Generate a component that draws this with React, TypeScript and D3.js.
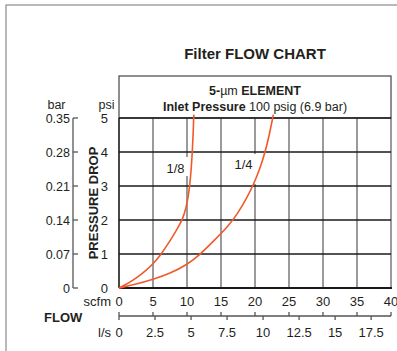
import React from "react";
import * as d3 from "d3";

const scfmTicks = [0, 5, 10, 15, 20, 25, 30, 35, 40];
const lpsTicks = [0, 2.5, 5, 7.5, 10, 12.5, 15, 17.5];
const psiTicks = [0, 1, 2, 3, 4, 5];
const barTicks = ["0", "0.07", "0.14", "0.21", "0.28", "0.35"];

// [scfm, psi]
const curve18: [number, number][] = [
  [0, 0], [1, 0.1], [2, 0.22], [3, 0.36], [4, 0.52], [5, 0.7], [6.2, 1], [7, 1.23],
  [8, 1.55], [8.8, 1.82], [9.4, 2.05], [9.85, 2.35], [10.2, 2.7], [10.42, 3.05],
  [10.62, 3.5], [10.78, 4], [10.9, 4.5], [10.98, 5], [11.02, 5.1],
];
const curve14: [number, number][] = [
  [0, 0], [2.5, 0.11], [5, 0.25], [7.5, 0.43], [10, 0.68], [12, 1.0], [14, 1.4],
  [16, 1.8], [17.5, 2.2], [18.8, 2.65], [19.8, 3.05], [20.7, 3.5], [21.5, 4],
  [22.1, 4.5], [22.6, 5], [22.7, 5.1],
];

const FONT = "'Liberation Sans', Arial, Helvetica, sans-serif";
const ORANGE = "#f1592a";

export default function App() {
  const x = d3.scaleLinear().domain([0, 40]).range([119, 391]);
  const xl = d3.scaleLinear().domain([0, 40 / 2.1189]).range([119, 391]);
  const y = d3.scaleLinear().domain([0, 5]).range([288, 118]);
  const line = d3
    .line<[number, number]>()
    .x((d) => x(d[0]))
    .y((d) => y(d[1]))
    .curve(d3.curveBasis);

  const axisY = 316;
  const barX = 73;

  return (
    <svg
      width={397}
      height={351}
      style={{ position: "absolute", left: 0, top: 0, background: "#fff" }}
      fontFamily={FONT}
    >
      <rect x={6} y={5} width={420} height={400} fill="none" stroke="#8a8a8a" strokeWidth={1.2} />
      <text x={255} y={59} textAnchor="middle" fontSize={15} fontWeight="bold" fill="#231f20">
        Filter FLOW CHART
      </text>
      {/* header box */}
      <rect x={119} y={76} width={272} height={42} fill="none" stroke="#444" strokeWidth={1.2} />
      <text x={255} y={95} textAnchor="middle" fontSize={12.5} fill="#231f20">
        <tspan fontWeight="bold">5-</tspan>
        <tspan>µm </tspan>
        <tspan fontWeight="bold">ELEMENT</tspan>
      </text>
      <text x={255} y={111} textAnchor="middle" fontSize={12.5} fill="#231f20">
        <tspan fontWeight="bold">Inlet Pressure </tspan>
        <tspan>100 psig (6.9 bar)</tspan>
      </text>

      {/* vertical grid */}
      {scfmTicks.slice(1).map((t) => (
        <line key={"v" + t} x1={x(t)} x2={x(t)} y1={118} y2={288} stroke="#707070" strokeWidth={1.4} />
      ))}
      {/* horizontal grid */}
      {psiTicks.slice(1).map((t) => (
        <line key={"h" + t} x1={119} x2={391} y1={y(t)} y2={y(t)} stroke="#1a1a1a" strokeWidth={1.4} />
      ))}
      <line x1={119} x2={119} y1={118} y2={288} stroke="#1a1a1a" strokeWidth={1.6} />
      <line x1={119} x2={392} y1={288} y2={288} stroke="#1a1a1a" strokeWidth={2} />

      {/* label backgrounds */}
      <rect x={163} y={157} width={26} height={19} fill="#fff" />
      <rect x={231} y={154} width={26} height={30} fill="#fff" />
      <text x={175.5} y={173} textAnchor="middle" fontSize={13} fill="#231f20">1/8</text>
      <text x={243.5} y={169} textAnchor="middle" fontSize={13} fill="#231f20">1/4</text>

      <path d={line(curve18) || ""} fill="none" stroke={ORANGE} strokeWidth={1.6} />
      <path d={line(curve14) || ""} fill="none" stroke={ORANGE} strokeWidth={1.6} />

      {/* psi axis labels */}
      {psiTicks.map((t) => (
        <text key={"p" + t} x={108} y={y(t) + 4.5} textAnchor="end" fontSize={13} fill="#231f20">
          {t}
        </text>
      ))}
      <text x={106.5} y={109} textAnchor="middle" fontSize={12.5} fill="#231f20">psi</text>
      <text x={56.5} y={109} textAnchor="middle" fontSize={12.5} fill="#231f20">bar</text>

      {/* bar axis */}
      <line x1={barX} x2={barX} y1={y(5)} y2={y(0)} stroke="#555" strokeWidth={1.3} />
      {barTicks.map((t, i) => (
        <g key={"b" + t}>
          <line x1={barX} x2={barX + 5} y1={y(i)} y2={y(i)} stroke="#555" strokeWidth={1.3} />
          <text x={70} y={y(i) + 4.5} textAnchor="end" fontSize={12.5} fill="#231f20">
            {t}
          </text>
        </g>
      ))}
      <text
        transform={`translate(98,203) rotate(-90)`}
        textAnchor="middle"
        fontSize={13}
        fontWeight="bold"
        fill="#231f20"
      >
        PRESSURE DROP
      </text>

      {/* flow axis */}
      {scfmTicks.map((t) => (
        <text key={"s" + t} x={x(t)} y={306} textAnchor="middle" fontSize={13} fill="#231f20">
          {t}
        </text>
      ))}
      <text x={111} y={306} textAnchor="end" fontSize={13} fill="#231f20">scfm</text>
      <line x1={119} x2={391} y1={axisY} y2={axisY} stroke="#555" strokeWidth={1.3} />
      {scfmTicks.map((t) => (
        <line key={"st" + t} x1={x(t)} x2={x(t)} y1={axisY - 4} y2={axisY} stroke="#555" strokeWidth={1.3} />
      ))}
      {lpsTicks.map((t) => (
        <line key={"lt" + t} x1={xl(t)} x2={xl(t)} y1={axisY} y2={axisY + 4} stroke="#555" strokeWidth={1.3} />
      ))}
      {lpsTicks.map((t) => (
        <text key={"l" + t} x={xl(t)} y={337} textAnchor="middle" fontSize={13} fill="#231f20">
          {t}
        </text>
      ))}
      <text x={111} y={337} textAnchor="end" fontSize={13} fill="#231f20">l/s</text>
      <text x={44} y={322} fontSize={13} fontWeight="bold" fill="#231f20">FLOW</text>
    </svg>
  );
}
